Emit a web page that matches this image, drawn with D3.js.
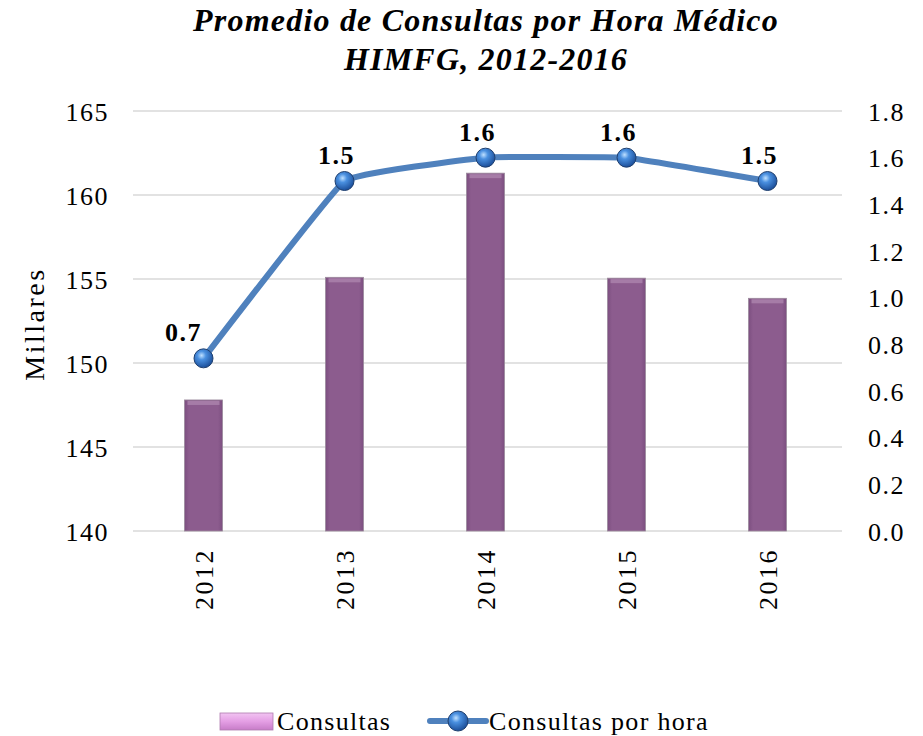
<!DOCTYPE html>
<html>
<head>
<meta charset="utf-8">
<script src="https://cdn.jsdelivr.net/npm/d3@7"></script>
<style>
  body { margin: 0; background: #fff; }
  svg text { font-family: "Liberation Serif", "DejaVu Serif", serif; fill: #000; }
</style>
</head>
<body>
<div id="chart"></div>
<script>
// data
const years = ["2012", "2013", "2014", "2015", "2016"];
const consultas = [147.8, 155.1, 161.3, 155.05, 153.85]; // millares
const porHora = [0.74, 1.5, 1.6, 1.6, 1.5];
const porHoraLabels = ["0.7", "1.5", "1.6", "1.6", "1.5"];
const leftTicks = [140, 145, 150, 155, 160, 165];
const rightTicks = [0, 0.2, 0.4, 0.6, 0.8, 1.0, 1.2, 1.4, 1.6, 1.8];

const width = 923, height = 736;
const plot = { left: 133, right: 838, top: 111, bottom: 531 };

const svg = d3.select("#chart").append("svg")
    .attr("width", width)
    .attr("height", height);

const defs = svg.append("defs");

// bar fill: mauve with soft edges
let barGrad = defs.append("linearGradient").attr("id", "barGrad")
    .attr("x1", 0).attr("x2", 1).attr("y1", 0).attr("y2", 0);
barGrad.append("stop").attr("offset", "0%").attr("stop-color", "#7c4f80");
barGrad.append("stop").attr("offset", "12%").attr("stop-color", "#8c5c8e");
barGrad.append("stop").attr("offset", "88%").attr("stop-color", "#8c5c8e");
barGrad.append("stop").attr("offset", "100%").attr("stop-color", "#7c4f80");

let legGrad = defs.append("linearGradient").attr("id", "legGrad")
    .attr("x1", 0).attr("x2", 0).attr("y1", 0).attr("y2", 1);
legGrad.append("stop").attr("offset", "0%").attr("stop-color", "#f2c4f2");
legGrad.append("stop").attr("offset", "50%").attr("stop-color", "#e49ee4");
legGrad.append("stop").attr("offset", "100%").attr("stop-color", "#c77cc8");

let ball = defs.append("radialGradient").attr("id", "ball")
    .attr("cx", "40%").attr("cy", "35%").attr("r", "65%");
ball.append("stop").attr("offset", "0%").attr("stop-color", "#bfe0ff");
ball.append("stop").attr("offset", "35%").attr("stop-color", "#4a90e0");
ball.append("stop").attr("offset", "100%").attr("stop-color", "#1c4f9a");

// scales
const x = d3.scaleBand().domain(years).range([plot.left, plot.right]);
const yLeft = d3.scaleLinear().domain([140, 165]).range([plot.bottom, plot.top]);
const yRight = d3.scaleLinear().domain([0, 1.8]).range([plot.bottom, plot.top]);

// gridlines
svg.append("g").selectAll("line")
    .data(leftTicks)
    .enter().append("line")
    .attr("x1", plot.left).attr("x2", plot.right + 4)
    .attr("y1", d => yLeft(d)).attr("y2", d => yLeft(d))
    .attr("stroke", "#d9d9d9").attr("stroke-width", 1.5);

// left axis
const leftAxis = svg.append("g")
    .attr("transform", `translate(${plot.left},0)`)
    .call(d3.axisLeft(yLeft).tickValues(leftTicks).tickSize(0).tickPadding(24));
leftAxis.select(".domain").remove();
leftAxis.selectAll("text").style("font-size", "26px").style("letter-spacing", "1.5px").attr("dy", "0.35em");

// right axis
const rightAxis = svg.append("g")
    .attr("transform", `translate(${plot.right},0)`)
    .call(d3.axisRight(yRight).tickValues(rightTicks).tickSize(0).tickPadding(30)
        .tickFormat(d3.format(".1f")));
rightAxis.select(".domain").remove();
rightAxis.selectAll("text").style("font-size", "26px").style("letter-spacing", "1.5px").attr("dy", "0.35em");

// x labels (rotated)
svg.append("g").selectAll("text")
    .data(years)
    .enter().append("text")
    .attr("transform", d => `translate(${x(d) + x.bandwidth() / 2 + 9},548) rotate(-90)`)
    .attr("text-anchor", "end")
    .style("font-size", "26px")
    .style("letter-spacing", "2.5px")
    .text(d => d);

// bars
const barW = 38;
svg.append("g").selectAll("rect")
    .data(consultas)
    .enter().append("rect")
    .attr("x", (d, i) => x(years[i]) + x.bandwidth() / 2 - barW / 2)
    .attr("y", d => yLeft(d))
    .attr("width", barW)
    .attr("height", d => plot.bottom - yLeft(d))
    .attr("fill", "url(#barGrad)")
    .attr("stroke", "#9b8a9c").attr("stroke-width", 0.8);

svg.append("g").selectAll("rect")
    .data(consultas)
    .enter().append("rect")
    .attr("x", (d, i) => x(years[i]) + x.bandwidth() / 2 - barW / 2 + 3)
    .attr("y", d => yLeft(d) + 1)
    .attr("width", barW - 6)
    .attr("height", 4)
    .attr("fill", "#b08ab2").attr("opacity", 0.7);

// line
const line = d3.line()
    .x((d, i) => x(years[i]) + x.bandwidth() / 2)
    .y(d => yRight(d))
    .curve(d3.curveCardinal.tension(0.75));

svg.append("path")
    .datum(porHora)
    .attr("d", line)
    .attr("fill", "none")
    .attr("stroke", "#4f81bd")
    .attr("stroke-width", 6)
    .attr("stroke-linejoin", "round");

svg.append("g").selectAll("circle")
    .data(porHora)
    .enter().append("circle")
    .attr("cx", (d, i) => x(years[i]) + x.bandwidth() / 2)
    .attr("cy", d => yRight(d))
    .attr("r", 9.5)
    .attr("fill", "url(#ball)")
    .attr("stroke", "#1f3f6e").attr("stroke-width", 1);

// data labels
svg.append("g").selectAll("text")
    .data(porHora)
    .enter().append("text")
    .attr("x", (d, i) => x(years[i]) + x.bandwidth() / 2 - (i === 0 ? 20 : 8))
    .attr("y", d => yRight(d) - 17)
    .attr("text-anchor", "middle")
    .style("font-size", "26px")
    .style("letter-spacing", "1.5px")
    .style("font-weight", "bold")
    .text((d, i) => porHoraLabels[i]);

// y title
svg.append("text")
    .attr("transform", "translate(44,324) rotate(-90)")
    .attr("text-anchor", "middle")
    .style("font-size", "28px")
    .style("letter-spacing", "2.5px")
    .text("Millares");

// title
const title = svg.append("text")
    .attr("text-anchor", "middle")
    .style("font-size", "32px")
    .style("letter-spacing", "1.2px")
    .style("font-weight", "bold")
    .style("font-style", "italic");
title.append("tspan").attr("x", 486).attr("y", 31).text("Promedio de Consultas por Hora Médico");
title.append("tspan").attr("x", 486).attr("y", 70).text("HIMFG, 2012-2016");

// legend
const legend = svg.append("g");
legend.append("rect")
    .attr("x", 220).attr("y", 713)
    .attr("width", 53).attr("height", 17)
    .attr("fill", "url(#legGrad)")
    .attr("stroke", "#b07ab0").attr("stroke-width", 0.8);
legend.append("text")
    .attr("x", 277).attr("y", 730)
    .style("font-size", "26px")
    .style("letter-spacing", "1.3px")
    .text("Consultas");

legend.append("line")
    .attr("x1", 430).attr("x2", 486)
    .attr("y1", 721).attr("y2", 721)
    .attr("stroke", "#4f81bd").attr("stroke-width", 6)
    .attr("stroke-linecap", "round");
legend.append("circle")
    .attr("cx", 458).attr("cy", 721).attr("r", 10)
    .attr("fill", "url(#ball)")
    .attr("stroke", "#1f3f6e").attr("stroke-width", 1);
legend.append("text")
    .attr("x", 489).attr("y", 730)
    .style("font-size", "26px")
    .style("letter-spacing", "1.3px")
    .text("Consultas por hora");
</script>
</body>
</html>
